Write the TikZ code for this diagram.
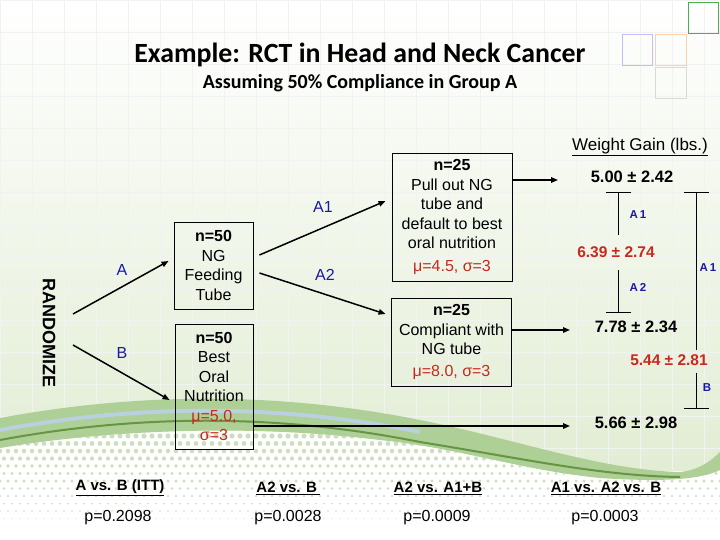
\documentclass[tikz,border=0pt]{standalone}
\usepackage{fontspec}
\setmainfont{Liberation Sans}
\newfontfamily\calib{Carlito}
\usetikzlibrary{arrows.meta}
\definecolor{redv}{RGB}{200,40,30}
\definecolor{bluel}{RGB}{25,25,165}
\definecolor{grn}{RGB}{120,175,80}
\definecolor{bgg}{RGB}{226,237,212}
\definecolor{dotc}{RGB}{205,222,190}
\definecolor{stripe}{RGB}{185,208,222}
\tikzset{
  boxs/.style={draw, line width=0.9pt, inner sep=0pt, align=center, font=\fontsize{16}{19.5}\selectfont},
  lbl/.style={text=bluel, font=\fontsize{16}{18}\selectfont},
  small/.style={text=bluel, font=\bfseries\fontsize{11.5}{13}\selectfont},
  val/.style={font=\bfseries\fontsize{16.5}{19}\selectfont},
  rval/.style={text=redv, font=\bfseries\fontsize{15.5}{18}\selectfont},
  cmp/.style={font=\bfseries\fontsize{15}{17}\selectfont},
  pv/.style={font=\fontsize{16}{18}\selectfont},
  arr/.style={line width=1.5pt, -{Triangle[length=7pt,width=5.5pt]}},
  brk/.style={line width=0.9pt},
  deco/.style={line width=0.8pt}
}
\begin{document}
\begin{tikzpicture}[x=1pt,y=-1pt]
\useasboundingbox (0,0) rectangle (720,540);
% background
\shade[top color=white, bottom color=bgg] (0,0) rectangle (720,470);
\foreach \gx in {0,32,...,720} \draw[black!5, line width=0.4pt] (\gx,0) -- (\gx,470);
\foreach \gy in {0,32,...,470} \draw[black!5, line width=0.4pt] (0,\gy) -- (720,\gy);
\fill[white] (720,470) .. controls (700,480) and (660,482) .. (600,478) .. controls (520,470) and (460,448) .. (380,440) .. controls (260,425) and (120,428) .. (0,448) -- (0,540) -- (720,540) -- cycle;
\begin{scope}
\clip (720,470) .. controls (700,480) and (660,482) .. (600,478) .. controls (520,470) and (460,448) .. (380,440) .. controls (260,425) and (120,428) .. (0,448) -- (0,540) -- (720,540) -- cycle;
\foreach \j in {0,...,12} {
  \pgfmathsetmacro{\rr}{max(0.3,2.6-0.18*\j)}
  \pgfmathsetmacro{\off}{mod(\j,2)*4}
  \foreach \i in {0,...,90} {
    \fill[dotc] (\i*8+\off, 436+\j*7.5) circle (\rr);
  }
}
\end{scope}
% swoosh
\fill[grn!60] (0,418) .. controls (140,392) and (280,392) .. (420,420) .. controls (520,440) and (600,470) .. (680,472) .. controls (700,470) and (712,460) .. (720,452) -- (720,470) .. controls (700,480) and (660,482) .. (600,478) .. controls (520,470) and (460,448) .. (380,440) .. controls (260,425) and (120,428) .. (0,448) -- cycle;
\draw[stripe, line width=4pt] (0,430) .. controls (140,404) and (280,404) .. (420,432);
\draw[grn!85!black, line width=2pt] (0,440) .. controls (140,414) and (280,414) .. (420,442) .. controls (520,458) and (600,476) .. (680,477);
% decorative squares
\draw[deco, green!55!black!70] (688,2) rectangle (718,33);
\draw[deco, blue!25] (622,34) rectangle (652,65);
\draw[deco, orange!35] (655,34) rectangle (686,65);
\draw[deco, black!15] (655,67) rectangle (686,98);
% titles
\node[font=\calib\bfseries\fontsize{27.8}{30}\selectfont] (title) at (360,55) {Example: RCT in Head and Neck Cancer};
\node[font=\calib\bfseries\fontsize{20}{22}\selectfont] (sub) at (360,83) {Assuming 50\% Compliance in Group A};
\node[font=\fontsize{17}{19}\selectfont] (wg) at (640,147) {\underline{Weight Gain (lbs.)}};
% randomize
\node[rotate=-90, font=\bfseries\fontsize{18}{20}\selectfont] (rnd) at (49,333) {RANDOMIZE};
% boxes
\node[boxs, minimum width=79, minimum height=87] (ng) at (213.5,265.5) {\textbf{n=50}\\NG\\Feeding\\Tube};
\node[boxs, minimum width=78, minimum height=125] (bo) at (214,386.5) {\textbf{n=50}\\Best\\Oral\\Nutrition\\\textcolor{redv}{μ=5.0,}\\\textcolor{redv}{σ=3}};
\node[boxs, minimum width=120, minimum height=128] (pull) at (452,217) {\textbf{n=25}\\Pull out NG\\tube and\\default to best\\oral nutrition\\[3pt]\textcolor{redv}{μ=4.5, σ=3}};
\node[boxs, minimum width=120, minimum height=88] (comp) at (451.5,342) {\textbf{n=25}\\Compliant with\\NG tube\\[2pt]\textcolor{redv}{μ=8.0, σ=3}};
% labels
\node[lbl] (la) at (122,270) {A};
\node[lbl] (lb) at (122,353) {B};
\node[lbl] (la1) at (323,207) {A1};
\node[lbl] (la2) at (325,275) {A2};
% arrows
\coordinate (rA) at (73,314);
\coordinate (rB) at (73,345);
\draw[arr] (rA) -- ([shift={(-5,-4.5)}]ng.west);
\draw[arr] (rB) -- ([shift={(-5,13.5)}]bo.west);
\draw[arr] ([shift={(6,-10.5)}]ng.east) -- ([shift={(-6,-16)}]pull.west);
\draw[arr] ([shift={(6,7.5)}]ng.east) -- ([shift={(-5.5,-28)}]comp.west);
% values
\node[val] (v1) at (632,177) {5.00 ± 2.42};
\node[rval] (v2) at (616,252) {6.39 ± 2.74};
\node[val] (v3) at (636,327) {7.78 ± 2.34};
\node[rval] (v4) at (669,360) {5.44 ± 2.81};
\node[val] (v5) at (636,423) {5.66 ± 2.98};
\coordinate (e1) at (558,180);
\coordinate (e2) at (570,330);
\coordinate (e3) at (570,426);
\draw[arr] ([shift={(0,-37)}]pull.east) -- (e1);
\draw[arr] ([shift={(0,-12)}]comp.east) -- (e2);
\draw[arr] ([shift={(0,39.5)}]bo.east) -- (e3);
% brackets
\draw[brk] (606,192) -- (631,192) (618,192) -- (618,235);
\draw[brk] (618,270) -- (618,312) (606,312) -- (631,312);
\draw[brk] (684,192) -- (709,192) (696,192) -- (696,350);
\draw[brk] (696,373) -- (696,408) (684,408) -- (709,408);
\node[small] (s1) at (638,215) {A\,1};
\node[small] (s2) at (638,287) {A\,2};
\node[small] (s3) at (708,268) {A\,1};
\node[small] (s4) at (707,388) {B};
% comparisons
\node[cmp] (c1) at (120,488) {\underline{A vs. B (ITT)}};
\node[cmp] (c2) at (288,488) {\underline{A2 vs. B\,}};
\node[cmp] (c3) at (438,488) {\underline{A2 vs. A1+B}};
\node[cmp] (c4) at (606,488) {\underline{A1 vs. A2 vs. B}};
\node[pv] (p1) at (118,518) {p=0.2098};
\node[pv] (p2) at (288,518) {p=0.0028};
\node[pv] (p3) at (437,518) {p=0.0009};
\node[pv] (p4) at (605,518) {p=0.0003};
\end{tikzpicture}
\end{document}
